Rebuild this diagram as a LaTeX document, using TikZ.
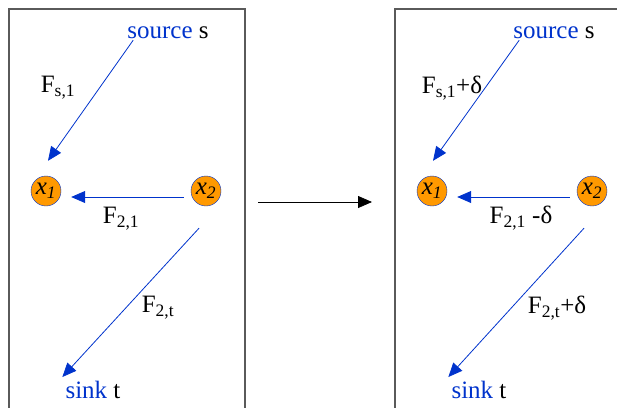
\documentclass[tikz,border=0pt]{standalone}
\usepackage{fontspec}
\setmainfont{Liberation Serif}
\usetikzlibrary{arrows.meta}

\definecolor{flowblue}{RGB}{0,51,204}
\definecolor{varorange}{RGB}{255,153,0}
\definecolor{framegray}{RGB}{90,90,90}

\begin{document}
\begin{tikzpicture}[x=1pt, y=-1pt,
        var/.style={circle, draw=flowblue, fill=varorange, minimum size=30pt, inner sep=0pt,
            font=\fontsize{25}{25}\selectfont\itshape},
        lbl/.style={font=\fontsize{25}{27}\selectfont, inner sep=1pt},
        flow/.style={draw=flowblue, line width=0.8pt, -{Triangle[length=14pt,width=12pt]}},
        frame/.style={draw=framegray, line width=1.2pt}]
    \useasboundingbox (0,0) rectangle (617,407);
    % left panel: flow F
    \draw[frame] (9,410) |- (245,9) -- (245,410);
    \node[var] (x1) at (46,191) {x\textsubscript{1}};
    \node[var] (x2) at (206,191) {x\textsubscript{2}};
    \node[lbl] (src1) at (168,33) {\textcolor{flowblue}{source} s};
    \node[lbl] (sink1) at (93,390) {\textcolor{flowblue}{sink} t};
    \node[lbl] (fs1) at (58,88) {F\textsubscript{s,1}};
    \node[lbl] (f21) at (121,219) {F\textsubscript{2,1}};
    \node[lbl] (f2t) at (158,308) {F\textsubscript{2,t}};
    \draw[flow] ([xshift=7pt]src1.south west) -- ([xshift=2pt,yshift=15pt]x1.north);
    \draw[flow] ([yshift=-6pt,xshift=-7pt]x2.west) -- ([yshift=-6pt,xshift=10pt]x1.east);
    \draw[flow] ([xshift=-7pt,yshift=-22pt]x2.south) -- ([xshift=-2pt,yshift=3pt]sink1.north west);
    % step between the two panels
    \coordinate (m1) at (258,202);
    \coordinate (m2) at (372,202);
    \draw[line width=0.8pt, -{Triangle[length=14pt,width=12pt]}] (m1) -- (m2);
    % right panel: flow F + delta
    \draw[frame] (395,410) |- (620,9);
    \node[var] (y1) at (432,191) {x\textsubscript{1}};
    \node[var] (y2) at (592,191) {x\textsubscript{2}};
    \node[lbl] (src2) at (554,33) {\textcolor{flowblue}{source} s};
    \node[lbl] (sink2) at (479,390) {\textcolor{flowblue}{sink} t};
    \node[lbl] (gs1) at (452,88) {F\textsubscript{s,1}+δ};
    \node[lbl] (g21) at (521,218) {F\textsubscript{2,1} -δ};
    \node[lbl] (g2t) at (557,308) {F\textsubscript{2,t}+δ};
    \draw[flow] ([xshift=7pt]src2.south west) -- ([xshift=1pt,yshift=15pt]y1.north);
    \draw[flow] ([yshift=-6pt,xshift=-7pt]y2.west) -- ([yshift=-6pt,xshift=10pt]y1.east);
    \draw[flow] ([xshift=-8pt,yshift=-22pt]y2.south) -- ([xshift=-2pt,yshift=3pt]sink2.north west);
\end{tikzpicture}
\end{document}
